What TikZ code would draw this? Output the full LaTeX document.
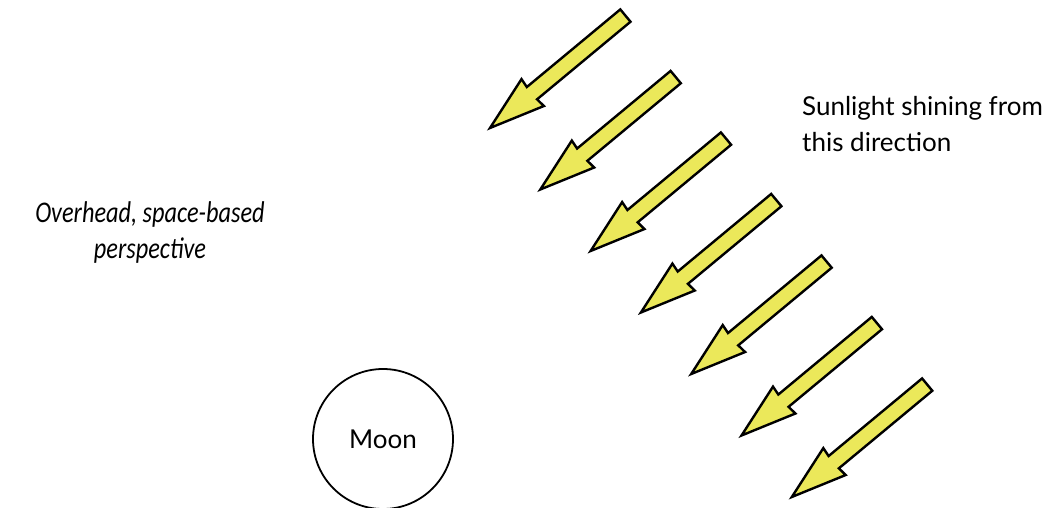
\documentclass[tikz,border=0pt]{standalone}
\usepackage{fontspec}
\setmainfont{Lato}
\newfontfamily\itfont[FakeStretch=0.81]{Carlito}
\definecolor{sunyellow}{RGB}{235,232,90}
\begin{document}
\begin{tikzpicture}[x=1pt,y=1pt,
  sunarrow/.style={draw=black, fill=sunyellow, line width=2.4pt, line join=miter},
  label/.style={inner sep=0pt, font=\fontsize{26}{36}\selectfont}]
\useasboundingbox (0,0) rectangle (1052,-508);
\foreach \i in {0,...,6}{
  \begin{scope}[shift={({490+50.3*\i},{-(128+61.5*\i)})}, rotate=39.7]
    \draw[sunarrow] (0,0) -- (55.5,-17.5) -- (54.5,-8) -- (176,-8) -- (176,8)
      -- (54.5,8) -- (55.5,17.5) -- cycle;
  \end{scope}
}
\node[label, anchor=north west, align=left] (sun) at (802,-96)
  {Sunlight shining from\\this direction};
\node[inner sep=0pt, align=center, font=\itfont\itshape\fontsize{30}{36}\selectfont] (view) at (150,-233)
  {Overhead, space-based\\perspective};
\node[circle, draw, line width=1.8pt, minimum size=140pt, inner sep=0pt,
  font=\fontsize{26}{30}\selectfont] (moon) at (383,-439) {Moon};
\end{tikzpicture}
\end{document}
